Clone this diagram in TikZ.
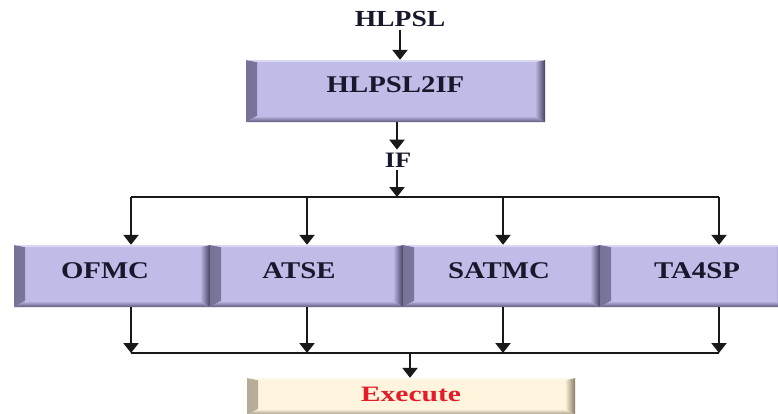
\documentclass[tikz,border=0pt]{standalone}
\usepackage{fontspec}
\setmainfont{Liberation Serif}[FakeStretch=1.2]
\usetikzlibrary{arrows.meta}

\definecolor{lavface}{RGB}{192,188,232}
\definecolor{lavedge}{RGB}{70,66,98}
\definecolor{lavtop}{RGB}{218,215,244}
\definecolor{crmface}{RGB}{255,244,222}
\definecolor{crmedge}{RGB}{132,124,100}
\definecolor{crmtop}{RGB}{252,248,238}
\definecolor{inkblue}{RGB}{24,24,44}
\definecolor{exred}{RGB}{228,28,40}

\tikzset{
  % raised box: flat face with shaded bevels on the sides and bottom
  bevelbox/.style n args={3}{
    inner sep=0pt, fill=#1,
    path picture={
      \shade[left color=#2!60!#1, right color=#1]
        (path picture bounding box.south west) -- (path picture bounding box.north west)
        -- ([xshift=11pt,yshift=-2pt]path picture bounding box.north west)
        -- ([xshift=11pt,yshift=6pt]path picture bounding box.south west) -- cycle;
      \shade[left color=#1, right color=#2]
        (path picture bounding box.south east) -- (path picture bounding box.north east)
        -- ([xshift=-10pt,yshift=-2pt]path picture bounding box.north east)
        -- ([xshift=-10pt,yshift=6pt]path picture bounding box.south east) -- cycle;
      \shade[top color=#1, bottom color=#2!80!#1]
        (path picture bounding box.south west) -- (path picture bounding box.south east)
        -- ([xshift=-10pt,yshift=6pt]path picture bounding box.south east)
        -- ([xshift=11pt,yshift=6pt]path picture bounding box.south west) -- cycle;
      \fill[#3]
        (path picture bounding box.north west) -- (path picture bounding box.north east)
        -- ([xshift=-10pt,yshift=-2pt]path picture bounding box.north east)
        -- ([xshift=11pt,yshift=-2pt]path picture bounding box.north west) -- cycle;
    }
  },
  toolbox/.style={bevelbox={lavface}{lavedge}{lavtop}, text=inkblue,
    font=\fontsize{24}{24}\selectfont\bfseries},
  runbox/.style={bevelbox={crmface}{crmedge}{crmtop}, text=exred,
    font=\fontsize{22}{22}\selectfont\bfseries},
  lbl/.style={inner sep=3pt, text=inkblue, font=\fontsize{23}{23}\selectfont\bfseries},
  arr/.style={draw=black!90, line width=2.4pt, -{Triangle[width=15pt,length=10pt]}},
  bus/.style={draw=black!90, line width=1.8pt}
}

\begin{document}
\begin{tikzpicture}[x=1pt, y=-1pt]
\clip (0,0) rectangle (778,413);
\fill[white] (0,0) rectangle (778,413);

% input and translator
\node[lbl] (hlpsl) at (400,19) {HLPSL};
\node[toolbox, minimum width=299pt, minimum height=62pt, text depth=12pt]
  (h2if) at (395.5,91) {HLPSL2IF};
\node[lbl, font=\fontsize{22}{22}\selectfont\bfseries] (ifn) at (398,160) {IF};

% back-ends
\node[toolbox, minimum width=196pt, minimum height=62pt, text depth=10pt]
  (ofmc) at (112,276) {OFMC\hspace*{14pt}};
\node[toolbox, minimum width=193pt, minimum height=62pt, text depth=10pt]
  (atse) at (306.5,276) {ATSE\hspace*{15pt}};
\node[toolbox, minimum width=197pt, minimum height=62pt, text depth=10pt]
  (satmc) at (501.5,276) {SATMC\hspace*{5pt}};
\node[toolbox, minimum width=186pt, minimum height=62pt, text depth=10pt]
  (ta4sp) at (693,276) {\hspace*{8pt}TA4SP};

% execution
\node[runbox, minimum width=328pt, minimum height=37pt, text depth=4pt]
  (exec) at (411,396.5) {\scalebox{1.12}[1]{Execute}};

% junction points on the two buses
\coordinate (top) at (397,197);
\coordinate (t1) at (131,197);
\coordinate (t2) at (307,197);
\coordinate (t3) at (503,197);
\coordinate (t4) at (719,197);
\coordinate (b1) at (131,353);
\coordinate (b2) at (307,353);
\coordinate (b3) at (503,353);
\coordinate (b4) at (719,353);
\coordinate (bot) at (410,353);

% connectors
\draw[arr] (hlpsl.south) -- (hlpsl.south |- h2if.north);
\draw[arr] (h2if.south -| top) -- (ifn.north -| top);
\draw[arr] (ifn.south -| top) -- (top);
\draw[bus] (t1) -- (t4);
\draw[arr] (t1) -- (t1 |- ofmc.north);
\draw[arr] (t2) -- (t2 |- atse.north);
\draw[arr] (t3) -- (t3 |- satmc.north);
\draw[arr] (t4) -- (t4 |- ta4sp.north);
\draw[arr] (b1 |- ofmc.south) -- (b1);
\draw[arr] (b2 |- atse.south) -- (b2);
\draw[arr] (b3 |- satmc.south) -- (b3);
\draw[arr] (b4 |- ta4sp.south) -- (b4);
\draw[bus] (b1) -- (b4);
\draw[arr] (bot) -- (bot |- exec.north);
\end{tikzpicture}
\end{document}
